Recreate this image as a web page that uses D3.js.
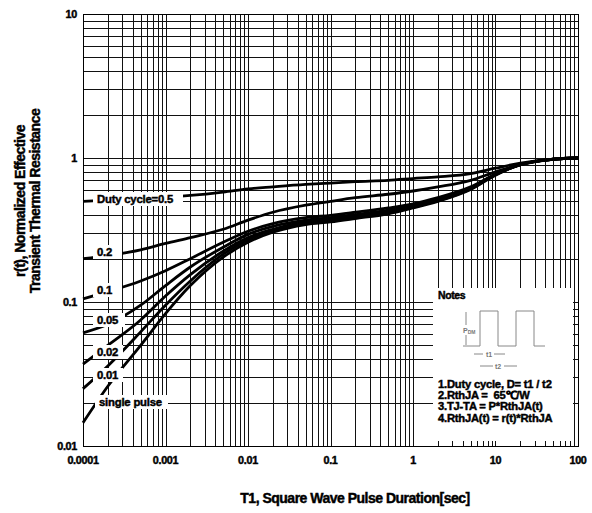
<!DOCTYPE html>
<html>
<head>
<meta charset="utf-8">
<script src="https://cdn.jsdelivr.net/npm/d3@7"></script>
<style>
body { margin:0; background:#fff; }
text { font-family:"Liberation Sans", Arial, sans-serif; font-weight:bold; }
text.heavy { stroke:#000; stroke-width:0.45px; }
</style>
</head>
<body>
<svg id="chart" width="592" height="513"></svg>
<script>
// pulse duration [sec]
var pulse_t = [1e-4, 2e-4, 5e-4, 1e-3, 2e-3, 5e-3, 1e-2, 2e-2, 5e-2, 0.1, 0.2, 0.5, 1, 2, 5, 10, 20, 50, 100];

// r(t) for each duty cycle
var r_d50  = [0.50, 0.51, 0.525, 0.535, 0.55, 0.58, 0.61, 0.63, 0.655, 0.67, 0.685, 0.70, 0.72, 0.74, 0.78, 0.85, 0.92, 0.98, 1.0];
var r_d20  = [0.20, 0.21, 0.23, 0.255, 0.28, 0.32, 0.37, 0.42, 0.47, 0.50, 0.53, 0.56, 0.59, 0.63, 0.70, 0.80, 0.90, 0.98, 1.0];
var r_d10  = [0.105, 0.118, 0.14, 0.165, 0.20, 0.26, 0.31, 0.35, 0.385, 0.40, 0.42, 0.45, 0.48, 0.53, 0.63, 0.77, 0.90, 0.98, 1.0];
var r_d05  = [0.061, 0.07, 0.095, 0.13, 0.175, 0.24, 0.295, 0.335, 0.37, 0.385, 0.405, 0.435, 0.47, 0.52, 0.62, 0.77, 0.90, 0.98, 1.0];
var r_d02  = [0.037, 0.05, 0.075, 0.11, 0.155, 0.225, 0.28, 0.32, 0.36, 0.375, 0.395, 0.425, 0.46, 0.51, 0.615, 0.77, 0.90, 0.98, 1.0];
var r_d01  = [0.025, 0.036, 0.062, 0.095, 0.14, 0.215, 0.27, 0.315, 0.355, 0.37, 0.39, 0.42, 0.455, 0.505, 0.61, 0.765, 0.90, 0.98, 1.0];
var r_single = [0.0145, 0.026, 0.05, 0.083, 0.13, 0.205, 0.26, 0.305, 0.345, 0.36, 0.38, 0.41, 0.45, 0.50, 0.605, 0.76, 0.90, 0.98, 1.0];

var curve_names = ["Duty cycle=0.5", "0.2", "0.1", "0.05", "0.02", "0.01", "single pulse"];
var x_tick_labels = ["0.0001", "0.001", "0.01", "0.1", "1", "10", "100"];
var y_tick_labels = ["0.01", "0.1", "1", "10"];
var notes_lines = ["1.Duty cycle, D= t1 / t2", "2.RthJA =\u00a0 65\u2103/W", "3.TJ-TA = P*RthJA(t)", "4.RthJA(t) = r(t)*RthJA"];

var all_r = [r_d50, r_d20, r_d10, r_d05, r_d02, r_d01, r_single];

var p_left = 83, p_right = 578, p_top = 14, p_bottom = 446;

var svg = d3.select("#chart");
svg.append("rect").attr("width", 592).attr("height", 513).attr("fill", "#fff");

var x = d3.scaleLog().domain([1e-4, 100]).range([p_left, p_right]);
var y = d3.scaleLog().domain([0.01, 10]).range([p_bottom, p_top]);

// grid
var grid = svg.append("g").attr("shape-rendering", "crispEdges");
grid.selectAll(".vg").data(x.ticks()).enter().append("line")
  .attr("x1", function(d){ return Math.round(x(d)) + 0.5; })
  .attr("x2", function(d){ return Math.round(x(d)) + 0.5; })
  .attr("y1", p_top).attr("y2", p_bottom)
  .attr("stroke", "#111").attr("stroke-width", 1);
grid.selectAll(".hg").data(y.ticks()).enter().append("line")
  .attr("y1", function(d){ return Math.round(y(d)) + 0.5; })
  .attr("y2", function(d){ return Math.round(y(d)) + 0.5; })
  .attr("x1", p_left).attr("x2", p_right)
  .attr("stroke", "#111").attr("stroke-width", 1);

// curves
var line = d3.line()
  .x(function(d, i){ return x(pulse_t[i]); })
  .y(function(d){ return y(d); })
  .curve(d3.curveMonotoneX);

svg.selectAll(".curve").data(all_r).enter().append("path")
  .attr("class", "curve")
  .attr("d", line)
  .attr("fill", "none")
  .attr("stroke", "#000")
  .attr("stroke-width", 2.8);

// curve labels with white boxes
var label_boxes = [
  {x0: 93, x1: 183, cy: 199},
  {x0: 93, x1: 122, cy: 252},
  {x0: 93, x1: 122, cy: 290},
  {x0: 93, x1: 125, cy: 320},
  {x0: 93, x1: 123, cy: 352},
  {x0: 93, x1: 123, cy: 375},
  {x0: 95, x1: 168, cy: 402}
];
var labels = svg.selectAll(".clabel").data(curve_names).enter().append("g").attr("class", "clabel");
labels.append("rect")
  .attr("x", function(d, i){ return label_boxes[i].x0; })
  .attr("y", function(d, i){ return label_boxes[i].cy - 7; })
  .attr("width", function(d, i){ return label_boxes[i].x1 - label_boxes[i].x0; })
  .attr("height", 14)
  .attr("fill", "#fff");
labels.append("text")
  .attr("class", "heavy")
  .attr("x", function(d, i){ return label_boxes[i].x0 + 4; })
  .attr("y", function(d, i){ return label_boxes[i].cy + 4; })
  .attr("font-size", 11.3)
  .attr("letter-spacing", -0.2)
  .text(function(d){ return d; });

// notes box
var notes = svg.append("g");
notes.append("rect").attr("x", 433).attr("y", 288).attr("width", 140).attr("height", 153).attr("fill", "#fff");
notes.append("text").attr("class", "heavy").attr("x", 438).attr("y", 299).attr("font-size", 10.5).attr("letter-spacing", -0.4).text("Notes");
notes.append("path")
  .attr("d", "M463,346H480V311H498V346H516V311H534V346H545")
  .attr("fill", "none").attr("stroke", "#888").attr("stroke-width", 1);
notes.append("line").attr("x1", 466).attr("x2", 466).attr("y1", 312).attr("y2", 345).attr("stroke", "#888");
notes.append("rect").attr("x", 462).attr("y", 325).attr("width", 16).attr("height", 10).attr("fill", "#fff");
var pdm = notes.append("text").attr("x", 463).attr("y", 333).attr("font-size", 7).attr("font-weight", "normal").attr("fill", "#777");
pdm.append("tspan").text("P");
pdm.append("tspan").attr("font-size", 5).attr("dy", 1).text("DM");
notes.append("line").attr("x1", 474).attr("x2", 505).attr("y1", 354).attr("y2", 354).attr("stroke", "#888");
notes.append("rect").attr("x", 483).attr("y", 349).attr("width", 11).attr("height", 10).attr("fill", "#fff");
notes.append("text").attr("x", 489).attr("y", 357).attr("text-anchor", "middle").attr("font-size", 7).attr("font-weight", "normal").attr("fill", "#777").text("t1");
notes.append("line").attr("x1", 480).attr("x2", 517).attr("y1", 366).attr("y2", 366).attr("stroke", "#888");
notes.append("rect").attr("x", 493).attr("y", 361).attr("width", 11).attr("height", 10).attr("fill", "#fff");
notes.append("text").attr("x", 498).attr("y", 369).attr("text-anchor", "middle").attr("font-size", 7).attr("font-weight", "normal").attr("fill", "#777").text("t2");
notes.selectAll(".note").data(notes_lines).enter().append("text")
  .attr("class", "heavy")
  .attr("x", 438)
  .attr("y", function(d, i){ return 388 + i * 11.2; })
  .attr("font-size", 11.2)
  .attr("letter-spacing", -0.2)
  .text(function(d){ return d; });

// frame
svg.append("rect").attr("x", p_left + 0.5).attr("y", p_top + 0.5)
  .attr("width", p_right - p_left).attr("height", p_bottom - p_top)
  .attr("fill", "none").attr("stroke", "#000").attr("shape-rendering", "crispEdges");

// tick labels
var x_ticks = x_tick_labels.map(function(s){ return +s; });
svg.selectAll(".xl").data(x_ticks).enter().append("text")
  .attr("class", "heavy")
  .attr("x", function(d){ return x(d); })
  .attr("y", 464)
  .attr("text-anchor", "middle")
  .attr("font-size", 10.8)
  .attr("letter-spacing", -0.3)
  .text(function(d, i){ return x_tick_labels[i]; });
var y_ticks = y_tick_labels.map(function(s){ return +s; });
svg.selectAll(".yl").data(y_ticks).enter().append("text")
  .attr("class", "heavy")
  .attr("x", 77)
  .attr("y", function(d){ return y(d) + 4; })
  .attr("text-anchor", "end")
  .attr("font-size", 10.8)
  .attr("letter-spacing", -0.3)
  .text(function(d, i){ return y_tick_labels[i]; });

// axis titles
svg.append("text").attr("class", "heavy").attr("x", 355).attr("y", 503).attr("text-anchor", "middle")
  .attr("font-size", 14).attr("letter-spacing", -0.5)
  .text("T1, Square Wave Pulse Duration[sec]");
var yt = svg.append("text").attr("class", "heavy").attr("transform", "translate(25,201) rotate(-90)")
  .attr("text-anchor", "middle").attr("font-size", 14).attr("letter-spacing", -0.5);
yt.append("tspan").attr("x", 0).attr("dy", 0).text("r(t), Normalized Effective");
yt.append("tspan").attr("x", 0).attr("dy", 15).text("Transient Thermal Resistance");
</script>
</body>
</html>
